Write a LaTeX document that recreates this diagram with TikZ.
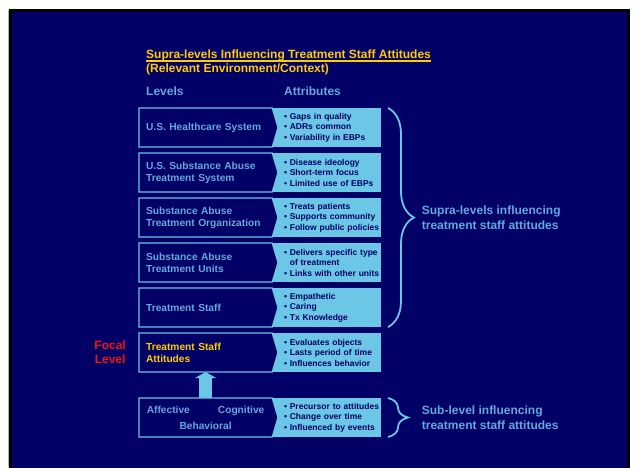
\documentclass[tikz,border=0pt]{standalone}
\usepackage{fontspec}
\setmainfont{Liberation Sans}
\usetikzlibrary{positioning,arrows.meta,shapes.symbols,decorations.pathreplacing}
\definecolor{slidenavy}{RGB}{0,0,102}
\definecolor{skyfill}{RGB}{108,198,230}
\definecolor{lvltext}{RGB}{100,168,222}
\definecolor{ttlyellow}{RGB}{255,204,0}
\definecolor{focalred}{RGB}{240,20,20}

\newcommand{\bl}{\textbullet\ }
\newcommand{\ttlline}[1]{\setbox0\hbox{#1}\rlap{\raisebox{-2.6pt}{\rule{\wd0}{1.4pt}}}\box0}

\tikzset{
  levelbox/.style={signal, signal to=east, signal pointer angle=147, draw=skyfill,
    line width=1.2pt, fill=slidenavy, text=lvltext,
    font=\bfseries\fontsize{10.2}{12}\selectfont, text width=119pt,
    inner xsep=7pt, inner ysep=0pt, minimum width=139pt, minimum height=39pt,
    outer sep=0pt, align=left},
  attrbox/.style={fill=skyfill, text=slidenavy,
    font=\bfseries\fontsize{8.5}{10.5}\selectfont, text width=109pt,
    inner xsep=0pt, inner ysep=0pt, minimum height=39pt, outer sep=0pt,
    align=left, execute at begin node={\leftskip=12pt}},
  headtext/.style={text=lvltext, font=\bfseries\fontsize{12}{14}\selectfont, inner sep=0pt},
  bracedeco/.style={decorate, decoration={brace, amplitude=#1, aspect=0.5},
    draw=skyfill, line width=1.8pt},
  bracetext/.style={text=lvltext, font=\bfseries\fontsize{12}{14.5}\selectfont,
    align=left, inner sep=0pt},
  uparrow/.style={draw=skyfill, line width=13pt, -{Triangle[width=21pt,length=6pt]}}
}

\begin{document}
\begin{tikzpicture}[x=1pt,y=-1pt]
\useasboundingbox (0,0) rectangle (634,467);

% Slide background
\fill[black] (9,9) rectangle (630,475);
\fill[slidenavy] (12,12) rectangle (627,475);
\draw[gray!60] (8.5,10) -- (8.5,467);

% Attributes column
\node[attrbox] (att1) at (326.5,127.5) {\bl Gaps in quality\\\bl ADRs common\\\bl Variability in EBPs};
\node[attrbox, below=6pt of att1] (att2) {\bl Disease ideology\\\bl Short-term focus\\\bl Limited use of EBPs};
\node[attrbox, below=6pt of att2] (att3) {\bl Treats patients\\\bl Supports community\\\bl Follow public policies};
\node[attrbox, below=6pt of att3] (att4) {\bl Delivers specific type\\\phantom{\bl}of treatment\\\bl Links with other units};
\node[attrbox, below=6pt of att4] (att5) {\bl Empathetic\\\bl Caring\\\bl Tx Knowledge};
\node[attrbox, below=6pt of att5] (att6) {\bl Evaluates objects\\\bl Lasts period of time\\\bl Influences behavior};
\node[attrbox, below=26pt of att6] (att7) {\bl Precursor to attitudes\\\bl Change over time\\\bl Influenced by events};

% Levels column
\node[levelbox, left=-6pt of att1] (lvl1) {U.S. Healthcare System};
\node[levelbox, left=-6pt of att2] (lvl2) {U.S. Substance Abuse\\Treatment System};
\node[levelbox, left=-6pt of att3] (lvl3) {Substance Abuse\\Treatment Organization};
\node[levelbox, left=-6pt of att4] (lvl4) {Substance Abuse\\Treatment Units};
\node[levelbox, left=-6pt of att5] (lvl5) {Treatment Staff};
\node[levelbox, left=-6pt of att6, text=ttlyellow] (lvl6) {Treatment Staff\\Attitudes};
\node[levelbox, left=-6pt of att7, align=center] (lvl7) {Affective\hspace{28pt}Cognitive\\[4pt]Behavioral};

% Title and headings
\node[anchor=north west, text=ttlyellow, font=\bfseries\fontsize{12}{14}\selectfont,
  align=left, inner sep=0pt] (title) at (146,50)
  {\ttlline{Supra-levels Influencing Treatment Staff Attitudes}\\(Relevant Environment/Context)};
\node[headtext, above right=12pt and 7pt of lvl1.north west] (levels) {Levels};
\node[headtext, above right=12pt and 12pt of att1.north west] (attributes) {Attributes};

% Focal level
\node[text=focalred, font=\bfseries\fontsize{12}{14}\selectfont, align=center,
  inner sep=0pt, left=13pt of lvl6] (focal) {Focal\\Level};

% Components feed the attitudes
\draw[uparrow] (lvl7.north) -- (lvl6.south);

% Braces
\draw[bracedeco=26pt] ([xshift=7pt]att1.north east) -- ([xshift=7pt]att5.south east)
  node[bracetext, midway, right=33pt] (supra) {Supra-levels influencing\\treatment staff attitudes};
\draw[bracedeco=20pt] ([xshift=7pt]att7.north east) -- ([xshift=7pt]att7.south east)
  node[bracetext, midway, right=33pt] (sub) {Sub-level influencing\\treatment staff attitudes};

\end{tikzpicture}
\end{document}
